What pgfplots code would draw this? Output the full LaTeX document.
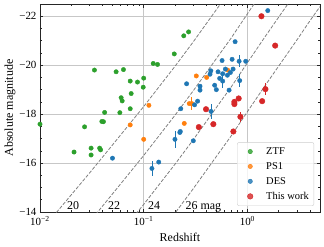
\documentclass[border=0pt]{standalone}
\usepackage{fontspec}
\setmainfont{Liberation Serif}
\usepackage{pgfplots}
\pgfplotsset{compat=1.18}
\definecolor{tabgreen}{HTML}{2CA02C}
\definecolor{taborange}{HTML}{FF7F0E}
\definecolor{tabblue}{HTML}{1F77B4}
\definecolor{tabred}{HTML}{D62728}
\begin{document}
\begin{tikzpicture}
\begin{axis}[
  at={(0,0)}, anchor=south west,
  scale only axis, width=280bp, height=208bp,
  xmode=log, xmin=0.01, xmax=5.01,
  ymin=-22.5, ymax=-14, y dir=reverse,
  xtick={0.01,0.1,1},
  xticklabels={10\textsuperscript{−2},10\textsuperscript{−1},10\textsuperscript{0}},
  minor xtick={0.02,0.03,0.04,0.05,0.06,0.07,0.08,0.09,0.2,0.3,0.4,0.5,0.6,0.7,0.8,0.9,2,3,4,5},
  ytick={-22,-20,-18,-16,-14},
  yticklabels={−22,−20,−18,−16,−14},
  minor ytick={-22.5,-21.5,-21,-20.5,-19.5,-19,-18.5,-17.5,-17,-16.5,-15.5,-15,-14.5},
  tick align=inside,
  major tick length=3.5bp, minor tick length=2bp,
  xmajorgrids, ymajorgrids,
  major grid style={black!22, line width=0.6bp},
  minor grid style={draw=none},
  axis line style={black!85, line width=0.8bp},
  every tick/.style={black!85, line width=0.6bp},
  tick label style={font=\fontsize{11}{13}\selectfont},
  xticklabel style={yshift=-0.5bp},
  xlabel={Redshift}, ylabel={Absolute magnitude},
  label style={font=\fontsize{12}{14}\selectfont},
  xlabel style={at={(axis description cs:0.5,-0.1226)}, anchor=center},
  ylabel style={at={(axis description cs:-0.107,0.5)}, anchor=center},
  legend style={at={(axis description cs:0.979,0.029)}, anchor=south east,
    draw=black!20, rounded corners=2bp, fill=white, fill opacity=0.8, text opacity=1,
    font=\fontsize{10.5}{12}\selectfont, row sep=2.5bp, inner xsep=3bp, inner ysep=3bp,
    cells={anchor=west}},
  legend image code/.code={\path[draw=none,fill=none] (0bp,-2bp) rectangle (24bp,2bp); \draw[mark repeat=2,mark phase=2] plot coordinates {(0bp,0bp)(10bp,0bp)(24bp,0bp)};},
]
% constant apparent magnitude lines
\addplot[gray, line width=0.8bp, dash pattern=on 3.5bp off 1.6bp, forget plot] coordinates {
(0.01,-13.18)(0.02,-14.70)(0.03,-15.59)(0.05,-16.74)(0.07,-17.50)(0.1,-18.31)(0.15,-19.27)(0.2,-19.95)(0.3,-20.95)(0.5,-22.26)(0.7,-23.12)};
\addplot[gray, line width=0.8bp, dash pattern=on 3.5bp off 1.6bp, forget plot] coordinates {
(0.01,-11.18)(0.02,-12.70)(0.03,-13.59)(0.05,-14.74)(0.07,-15.50)(0.1,-16.31)(0.15,-17.27)(0.2,-17.95)(0.3,-18.95)(0.5,-20.26)(0.7,-21.12)(1.0,-22.10)(1.5,-23.20)};
\addplot[gray, line width=0.8bp, dash pattern=on 3.5bp off 1.6bp, forget plot] coordinates {
(0.02,-10.70)(0.03,-11.59)(0.05,-12.74)(0.07,-13.50)(0.1,-14.31)(0.15,-15.27)(0.2,-15.95)(0.3,-16.95)(0.5,-18.26)(0.7,-19.12)(1.0,-20.10)(1.5,-21.20)(2,-21.96)(3,-23.03)};
\addplot[gray, line width=0.8bp, dash pattern=on 3.5bp off 1.6bp, forget plot] coordinates {
(0.05,-10.74)(0.07,-11.50)(0.1,-12.31)(0.15,-13.27)(0.2,-13.95)(0.3,-14.95)(0.5,-16.26)(0.7,-17.12)(1.0,-18.10)(1.5,-19.20)(2,-19.96)(3,-21.03)(4,-21.81)(5,-22.39)};
% ZTF
\addplot[only marks, mark=*, mark size=2.2bp, color=tabgreen, mark options={fill=tabgreen, draw=tabgreen}] coordinates {
(0.0100,-17.59)(0.0269,-17.48)(0.0213,-16.45)(0.0311,-16.61)(0.0311,-16.33)(0.0376,-16.61)(0.0384,-16.54)
(0.0335,-19.80)(0.0542,-19.73)(0.0638,-19.82)(0.0741,-19.35)(0.0871,-19.31)(0.1000,-19.47)(0.0989,-19.10)
(0.0757,-18.84)(0.0606,-18.67)(0.0620,-18.54)(0.0741,-18.22)(0.0589,-18.06)(0.0420,-18.07)(0.0395,-17.70)
(0.0409,-17.69)(0.1235,-20.07)(0.1359,-20.03)(0.1971,-20.46)(0.2434,-21.20)(0.2709,-21.36)};
\addlegendentry{ZTF}
% PS1
\addplot[only marks, mark=*, mark size=2.2bp, color=taborange, mark options={fill=taborange, draw=taborange},
  error bars/.cd, y dir=both, y explicit, error mark=none, error bar style={line width=0.8bp}] coordinates {
(0.0741,-17.56) +- (0,0)
(0.1000,-16.97) +- (0,0)
(0.1122,-18.36) +- (0,0)
(0.2461,-17.62) +- (0,0)
(0.2752,-18.43) +- (0,0)
(0.2910,-18.43) +- (0,0.25)
(0.3215,-19.56) +- (0,0)
(0.4044,-19.50) +- (0,0)
(0.6453,-19.80) +- (0,0)};
\addlegendentry{PS1}
% DES
\addplot[only marks, mark=*, mark size=2.2bp, color=tabblue, mark options={fill=tabblue, draw=tabblue},
  error bars/.cd, y dir=both, y explicit, error mark=none, error bar style={line width=0.8bp}] coordinates {
(0.0500,-16.20) +- (0,0)
(0.1200,-15.78) +- (0,0.30)
(0.1396,-16.04) +- (0,0)
(0.2001,-16.97) +- (0,0.35)
(0.2253,-17.29) +- (0,0)
(0.2230,-17.25) +- (0,0)
(0.3008,-16.91) +- (0,0)
(0.2278,-18.22) +- (0,0)
(0.3096,-18.38) +- (0,0)
(0.3310,-18.53) +- (0,0)
(0.2592,-19.24) +- (0,0)
(0.3491,-19.14) +- (0,0)
(0.3491,-18.98) +- (0,0)
(0.4831,-19.18) +- (0,0)
(0.5017,-19.00) +- (0,0)
(0.6657,-18.98) +- (0,0)
(0.4460,-18.11) +- (0,0.30)
(0.4439,-19.77) +- (0,0)
(0.5211,-19.73) +- (0,0)
(0.5774,-19.65) +- (0,0)
(0.6130,-19.84) +- (0,0)
(0.7275,-19.84) +- (0,0)
(0.6849,-19.70) +- (0,0)
(0.5400,-19.46) +- (0,0)
(0.5774,-19.35) +- (0,0.30)
(0.6410,-19.59) +- (0,0)
(0.8426,-19.37) +- (0,0.25)
(0.5697,-20.19) +- (0,0)
(0.7116,-20.24) +- (0,0)
(0.8314,-20.16) +- (0,0.25)
(0.9630,-20.16) +- (0,0)
(0.7607,-20.96) +- (0,0)
(1.571,-22.23) +- (0,0)
(0.4361,-19.63) +- (0,0)};
\addlegendentry{DES}
% This work
\addplot[only marks, mark=*, mark size=2.8bp, color=tabred, mark options={fill=tabred, draw=tabred},
  error bars/.cd, y dir=both, y explicit, error mark=none, error bar style={line width=0.8bp}] coordinates {
(1.365,-22.00) +- (0,0.10)
(1.852,-20.80) +- (0,0)
(1.492,-19.02) +- (0,0.25)
(1.387,-18.53) +- (0,0)
(0.8238,-18.64) +- (0,0)
(0.7489,-18.50) +- (0,0)
(0.7489,-18.41) +- (0,0)
(0.8557,-17.89) +- (0,0.20)
(0.7325,-17.29) +- (0,0)
(0.3990,-18.20) +- (0,0)
(0.4693,-17.59) +- (0,0)
(0.3400,-17.47) +- (0,0)};
\addlegendentry{This work}
\node[anchor=base, font=\fontsize{12}{14}\selectfont] at (axis cs:0.02084,-14.12) {20};
\node[anchor=base, font=\fontsize{12}{14}\selectfont] at (axis cs:0.0519,-14.12) {22};
\node[anchor=base, font=\fontsize{12}{14}\selectfont] at (axis cs:0.1263,-14.12) {24};
\node[anchor=base, font=\fontsize{12}{14}\selectfont] at (axis cs:0.3758,-14.12) {26 mag};
\end{axis}
\pgfresetboundingbox
\path (-40bp,-35bp) rectangle (284bp,212bp);
\end{tikzpicture}
\end{document}
